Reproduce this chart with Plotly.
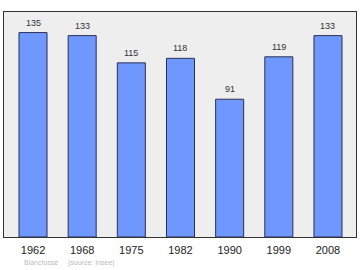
import plotly.graph_objects as go

years = ["1962", "1968", "1975", "1982", "1990", "1999", "2008"]
population = [135, 133, 115, 118, 91, 119, 133]
source_label = "Blancfossé     (source: Insee)"

fig = go.Figure()
fig.add_trace(go.Bar(
    x=years, y=population,
    width=0.57,
    marker=dict(color="#6e98fe", line=dict(color="#2b2f55", width=1)),
    hoverinfo="skip",
))
for i, v in enumerate(population):
    fig.add_annotation(
        x=i, y=v, text=str(v), showarrow=False,
        yanchor="bottom", yshift=3,
        font=dict(family="Liberation Sans", size=9, color="#333333"),
    )

fig.update_layout(
    width=360, height=270,
    margin=dict(l=4, r=4, t=12, b=33),
    paper_bgcolor="white",
    plot_bgcolor="#eeeeee",
    showlegend=False,
)
fig.update_xaxes(
    type="category", range=[-0.59, 6.57],
    showline=True, mirror=True, linecolor="#333333", linewidth=1,
    ticks="", showgrid=False, ticklabelstandoff=3,
    tickfont=dict(family="Liberation Sans", size=11, color="#222222"),
)
fig.update_yaxes(
    range=[0, 148.6],
    showline=True, mirror=True, linecolor="#333333", linewidth=1,
    showticklabels=False, ticks="", showgrid=False, zeroline=False,
)
fig.add_annotation(
    text=source_label, xref="paper", yref="paper",
    x=(22 - 4) / 352, y=-(263 - 237) / 225, xanchor="left", yanchor="middle",
    showarrow=False,
    font=dict(family="Liberation Sans", size=7, color="#bbbbbb"),
)

fig.write_html("out.html")
